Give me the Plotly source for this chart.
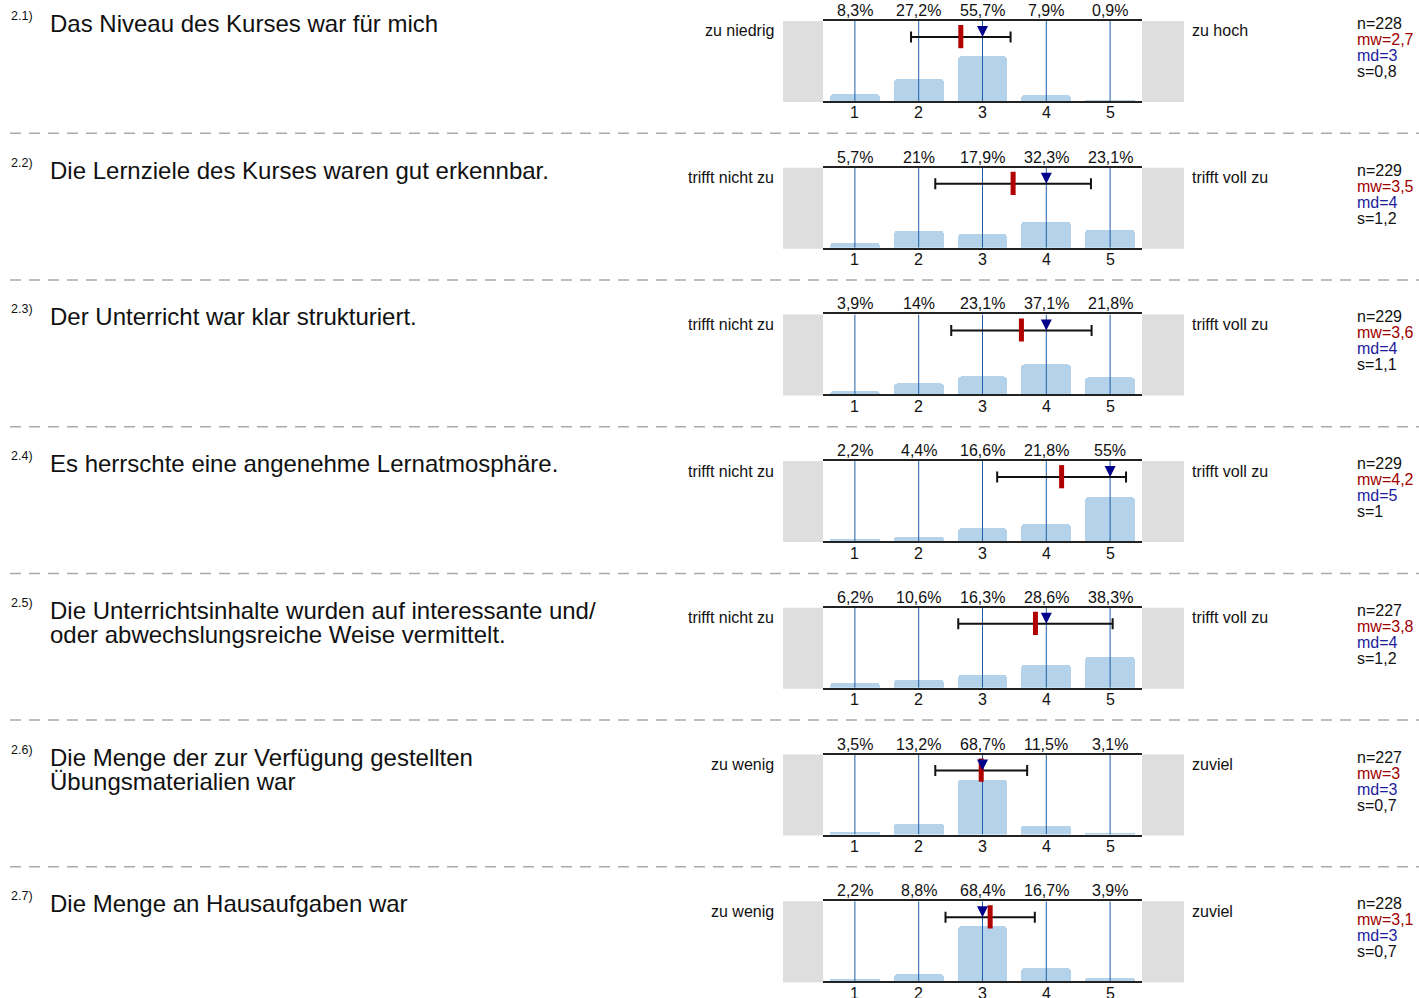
import plotly.graph_objects as go

# ---------------- data ----------------
question_numbers = ["2.1)", "2.2)", "2.3)", "2.4)", "2.5)", "2.6)", "2.7)"]
questions = [
    "Das Niveau des Kurses war für mich",
    "Die Lernziele des Kurses waren gut erkennbar.",
    "Der Unterricht war klar strukturiert.",
    "Es herrschte eine angenehme Lernatmosphäre.",
    "Die Unterrichtsinhalte wurden auf interessante und/\noder abwechslungsreiche Weise vermittelt.",
    "Die Menge der zur Verfügung gestellten\nÜbungsmaterialien war",
    "Die Menge an Hausaufgaben war",
]
left_labels = ["zu niedrig", "trifft nicht zu", "trifft nicht zu", "trifft nicht zu",
               "trifft nicht zu", "zu wenig", "zu wenig"]
right_labels = ["zu hoch", "trifft voll zu", "trifft voll zu", "trifft voll zu",
                "trifft voll zu", "zuviel", "zuviel"]
categories = [1, 2, 3, 4, 5]
percentages = [
    [8.3, 27.2, 55.7, 7.9, 0.9],
    [5.7, 21, 17.9, 32.3, 23.1],
    [3.9, 14, 23.1, 37.1, 21.8],
    [2.2, 4.4, 16.6, 21.8, 55],
    [6.2, 10.6, 16.3, 28.6, 38.3],
    [3.5, 13.2, 68.7, 11.5, 3.1],
    [2.2, 8.8, 68.4, 16.7, 3.9],
]
n_values = [228, 229, 229, 229, 227, 227, 228]
mw_values = [2.7, 3.5, 3.6, 4.2, 3.8, 3, 3.1]
md_values = [3, 4, 4, 5, 4, 3, 3]
s_values = [0.8, 1.2, 1.1, 1, 1.2, 0.7, 0.7]
# positions of mean marker / spread (unrounded)
mean_positions = [2.66, 3.48, 3.61, 4.24, 3.83, 2.98, 3.12]
sd_positions = [0.78, 1.22, 1.10, 1.01, 1.21, 0.72, 0.70]

# ---------------- styling ----------------
W, H = 1419, 998
ROW = 146.7
FONT = "Arial, Liberation Sans, sans-serif"
BAR_COLOR = "#b4d3eb"
GRID_COLOR = "#1f5fa8"
GREY = "#dedede"
MEAN_COLOR = "#b00000"
MED_COLOR = "#00008b"
MW_TXT = "#a00000"
MD_TXT = "#1c1c9c"


def px(x):
    return x / W


def py(y):
    return 1 - y / H


def fmt(v):
    return f"{v:g}".replace(".", ",")


fig = go.Figure()
shapes = []
annotations = []

for i in range(len(questions)):
    oy = ROW * i
    k = "" if i == 0 else str(i + 1)
    xa, ya = "x" + k, "y" + k
    top, bot = 21 + oy, 101 + oy

    fig.update_layout(**{
        "xaxis" + k: dict(domain=[px(823), px(1142)], range=[0.5, 5.5], anchor=ya,
                          tickvals=categories, showticklabels=False, ticks="",
                          showline=True, mirror=True, linecolor="#222", linewidth=2,
                          showgrid=False, zeroline=False, fixedrange=True),
        "yaxis" + k: dict(domain=[py(bot), py(top)], range=[0, 100], anchor=xa,
                          showline=False, showticklabels=False, showgrid=False,
                          zeroline=False, fixedrange=True),
    })

    # bars
    fig.add_trace(go.Bar(x=categories, y=percentages[i], xaxis=xa, yaxis=ya,
                         width=0.78, marker=dict(color=BAR_COLOR, cornerradius=4,
                                                 line=dict(width=0)),
                         hoverinfo="skip", showlegend=False))
    # vertical category lines
    gx, gy = [], []
    for c in categories:
        gx += [c, c, None]
        gy += [0, 100, None]
    fig.add_trace(go.Scatter(x=gx, y=gy, xaxis=xa, yaxis=ya, mode="lines",
                             line=dict(color=GRID_COLOR, width=1),
                             hoverinfo="skip", showlegend=False))
    # spread (mean +- s)
    fig.add_trace(go.Scatter(x=[mean_positions[i]], y=[80], xaxis=xa, yaxis=ya,
                             mode="markers", marker=dict(size=1, color="rgba(0,0,0,0)"),
                             error_x=dict(type="data", array=[sd_positions[i]],
                                          color="#111", thickness=2, width=5.5),
                             hoverinfo="skip", showlegend=False))
    # mean
    fig.add_trace(go.Scatter(x=[mean_positions[i], mean_positions[i]], y=[66, 95],
                             xaxis=xa, yaxis=ya, mode="lines",
                             line=dict(color=MEAN_COLOR, width=5),
                             hoverinfo="skip", showlegend=False))
    # median
    fig.add_trace(go.Scatter(x=[md_values[i]], y=[80], xaxis=xa, yaxis=ya,
                             mode="markers",
                             marker=dict(symbol="arrow-down", size=11, color=MED_COLOR,
                                         line=dict(width=0)),
                             hoverinfo="skip", showlegend=False))

    # grey side boxes
    for x0, x1 in [(783, 823), (1142, 1184)]:
        shapes.append(dict(type="rect", xref="paper", yref="paper",
                           x0=px(x0), x1=px(x1), y0=py(bot + 1), y1=py(top),
                           fillcolor=GREY, line=dict(width=0), layer="below"))

    # percentages on top, category labels below
    for c, p in zip(categories, percentages[i]):
        annotations.append(dict(x=c, xref=xa, y=py(10.5 + oy), yref="paper",
                                text=fmt(p) + "%", showarrow=False,
                                xanchor="center", yanchor="middle",
                                font=dict(size=16, color="#111", family=FONT)))
        annotations.append(dict(x=c, xref=xa, y=py(113 + oy), yref="paper",
                                text=str(c), showarrow=False,
                                xanchor="center", yanchor="middle",
                                font=dict(size=16, color="#111", family=FONT)))

    # left / right labels
    annotations.append(dict(x=px(776), y=py(31 + oy), xref="paper", yref="paper",
                            text=left_labels[i], showarrow=False, xanchor="right",
                            yanchor="middle", font=dict(size=16, color="#111", family=FONT)))
    annotations.append(dict(x=px(1190), y=py(31 + oy), xref="paper", yref="paper",
                            text=right_labels[i], showarrow=False, xanchor="left",
                            yanchor="middle", font=dict(size=16, color="#111", family=FONT)))

    # stats
    stats = [("n=" + str(n_values[i]), "#111"),
             ("mw=" + fmt(mw_values[i]), MW_TXT),
             ("md=" + fmt(md_values[i]), MD_TXT),
             ("s=" + fmt(s_values[i]), "#111")]
    for j, (t, col) in enumerate(stats):
        annotations.append(dict(x=px(1355), y=py(23.5 + 16 * j + oy), xref="paper",
                                yref="paper", text=t, showarrow=False, xanchor="left",
                                yanchor="middle", font=dict(size=16, color=col, family=FONT)))

    # question number and text
    annotations.append(dict(x=px(9), y=py(16 + oy), xref="paper", yref="paper",
                            text=question_numbers[i], showarrow=False, xanchor="left",
                            yanchor="middle", font=dict(size=12.5, color="#111", family=FONT)))
    for j, line in enumerate(questions[i].split("\n")):
        annotations.append(dict(x=px(48), y=py(23.5 + 24 * j + oy), xref="paper",
                                yref="paper", text=line, showarrow=False, xanchor="left",
                                yanchor="middle", font=dict(size=24, color="#111", family=FONT)))

    # dashed separator
    if i < len(questions) - 1:
        ys = 133.3 + oy
        shapes.append(dict(type="line", xref="paper", yref="paper",
                           x0=px(10), x1=1, y0=py(ys), y1=py(ys),
                           line=dict(color="#aaaaaa", width=1.5, dash="11px,8px")))

fig.update_layout(width=W, height=H, margin=dict(l=0, r=0, t=0, b=0),
                  paper_bgcolor="white", plot_bgcolor="rgba(0,0,0,0)",
                  shapes=shapes, annotations=annotations, showlegend=False,
                  font=dict(family=FONT), bargap=0)

fig.write_html(
    "out.html", config={"displayModeBar": False},
    post_script=("var d=document.getElementById('{plot_id}');"
                 "d.style.position='fixed';d.style.left='0px';d.style.top='0px';"
                 "document.body.style.margin='0';"
                 "document.documentElement.style.overflow='hidden';"))
